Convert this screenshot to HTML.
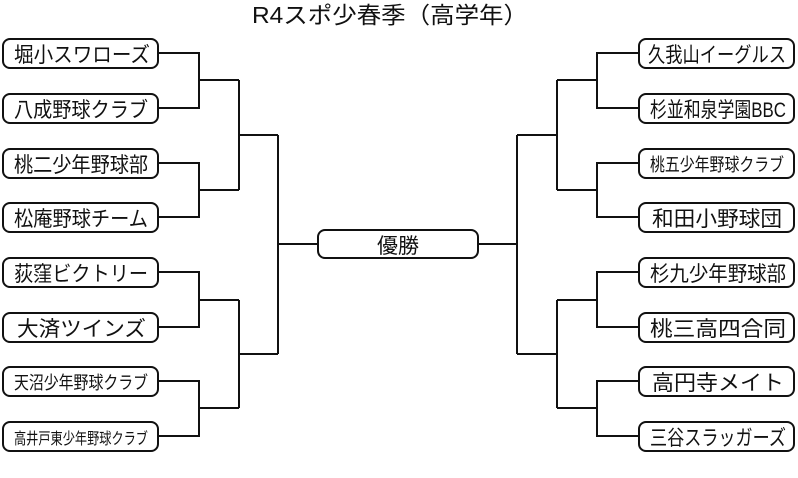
<!DOCTYPE html>
<html><head><meta charset="utf-8"><style>
html,body{margin:0;padding:0;background:#fff;}
svg{display:block;}
text{font-family:"Liberation Sans","Noto Sans CJK JP",sans-serif;fill:#111;}
</style></head><body>
<svg width="798" height="478" viewBox="0 0 798 478" xmlns="http://www.w3.org/2000/svg">
<text x="390" y="23" font-size="23" text-anchor="middle" textLength="276" lengthAdjust="spacingAndGlyphs">R4スポ少春季（高学年）</text>
<g fill="#fff" stroke="#111" stroke-width="2">
<rect x="3" y="39" width="155" height="29" rx="7"/>
<rect x="3" y="94" width="155" height="29" rx="7"/>
<rect x="3" y="149" width="155" height="29" rx="7"/>
<rect x="3" y="203" width="155" height="29" rx="7"/>
<rect x="3" y="258" width="155" height="29" rx="7"/>
<rect x="3" y="313" width="155" height="29" rx="7"/>
<rect x="3" y="367" width="155" height="29" rx="7"/>
<rect x="3" y="422" width="155" height="29" rx="7"/>
<rect x="639" y="39" width="155" height="29" rx="7"/>
<rect x="639" y="94" width="155" height="29" rx="7"/>
<rect x="639" y="149" width="155" height="29" rx="7"/>
<rect x="639" y="203" width="155" height="29" rx="7"/>
<rect x="639" y="258" width="155" height="29" rx="7"/>
<rect x="639" y="313" width="155" height="29" rx="7"/>
<rect x="639" y="367" width="155" height="29" rx="7"/>
<rect x="639" y="422" width="155" height="29" rx="7"/>
<rect x="318" y="230" width="160" height="28" rx="7"/>
</g>
<g fill="none" stroke="#111" stroke-width="2">
<path d="M158 53H199V108H158M199 80H239M158 163H199V217H158M199 190H239M239 80V190M239 135H278"/>
<path d="M158 272H199V327H158M199 300H239M158 381H199V436H158M199 408H239M239 300V408M239 354H278"/>
<path d="M278 135V354M278 244H318"/>
<path d="M639 53H597V108H639M597 80H557M639 163H597V217H639M597 190H557M557 80V190M557 135H517"/>
<path d="M639 272H597V327H639M597 300H557M639 381H597V436H639M597 408H557M557 300V408M557 354H517"/>
<path d="M517 135V354M517 244H478"/>
</g>
<g font-size="21">
<text x="14" y="62" textLength="136" lengthAdjust="spacingAndGlyphs">堀小スワローズ</text>
<text x="14" y="117" textLength="134" lengthAdjust="spacingAndGlyphs">八成野球クラブ</text>
<text x="14" y="172" textLength="134" lengthAdjust="spacingAndGlyphs">桃二少年野球部</text>
<text x="14" y="226" textLength="134" lengthAdjust="spacingAndGlyphs">松庵野球チーム</text>
<text x="14" y="281" textLength="134" lengthAdjust="spacingAndGlyphs">荻窪ビクトリー</text>
<text x="17" y="336" textLength="129" lengthAdjust="spacingAndGlyphs">大済ツインズ</text>
<text x="14" y="389" font-size="18" textLength="134" lengthAdjust="spacingAndGlyphs">天沼少年野球クラブ</text>
<text x="14" y="444" font-size="16" textLength="134" lengthAdjust="spacingAndGlyphs">高井戸東少年野球クラブ</text>
<text x="648" y="62" textLength="138" lengthAdjust="spacingAndGlyphs">久我山イーグルス</text>
<text x="650" y="117" textLength="136" lengthAdjust="spacingAndGlyphs">杉並和泉学園BBC</text>
<text x="650" y="171" font-size="18" textLength="134" lengthAdjust="spacingAndGlyphs">桃五少年野球クラブ</text>
<text x="652" y="226" textLength="130" lengthAdjust="spacingAndGlyphs">和田小野球団</text>
<text x="650" y="281" textLength="136" lengthAdjust="spacingAndGlyphs">杉九少年野球部</text>
<text x="650" y="336" textLength="136" lengthAdjust="spacingAndGlyphs">桃三高四合同</text>
<text x="652" y="390" textLength="132" lengthAdjust="spacingAndGlyphs">高円寺メイト</text>
<text x="650" y="445" textLength="136" lengthAdjust="spacingAndGlyphs">三谷スラッガーズ</text>
<text x="398" y="253" text-anchor="middle">優勝</text>
</g>
</svg>
</body></html>
